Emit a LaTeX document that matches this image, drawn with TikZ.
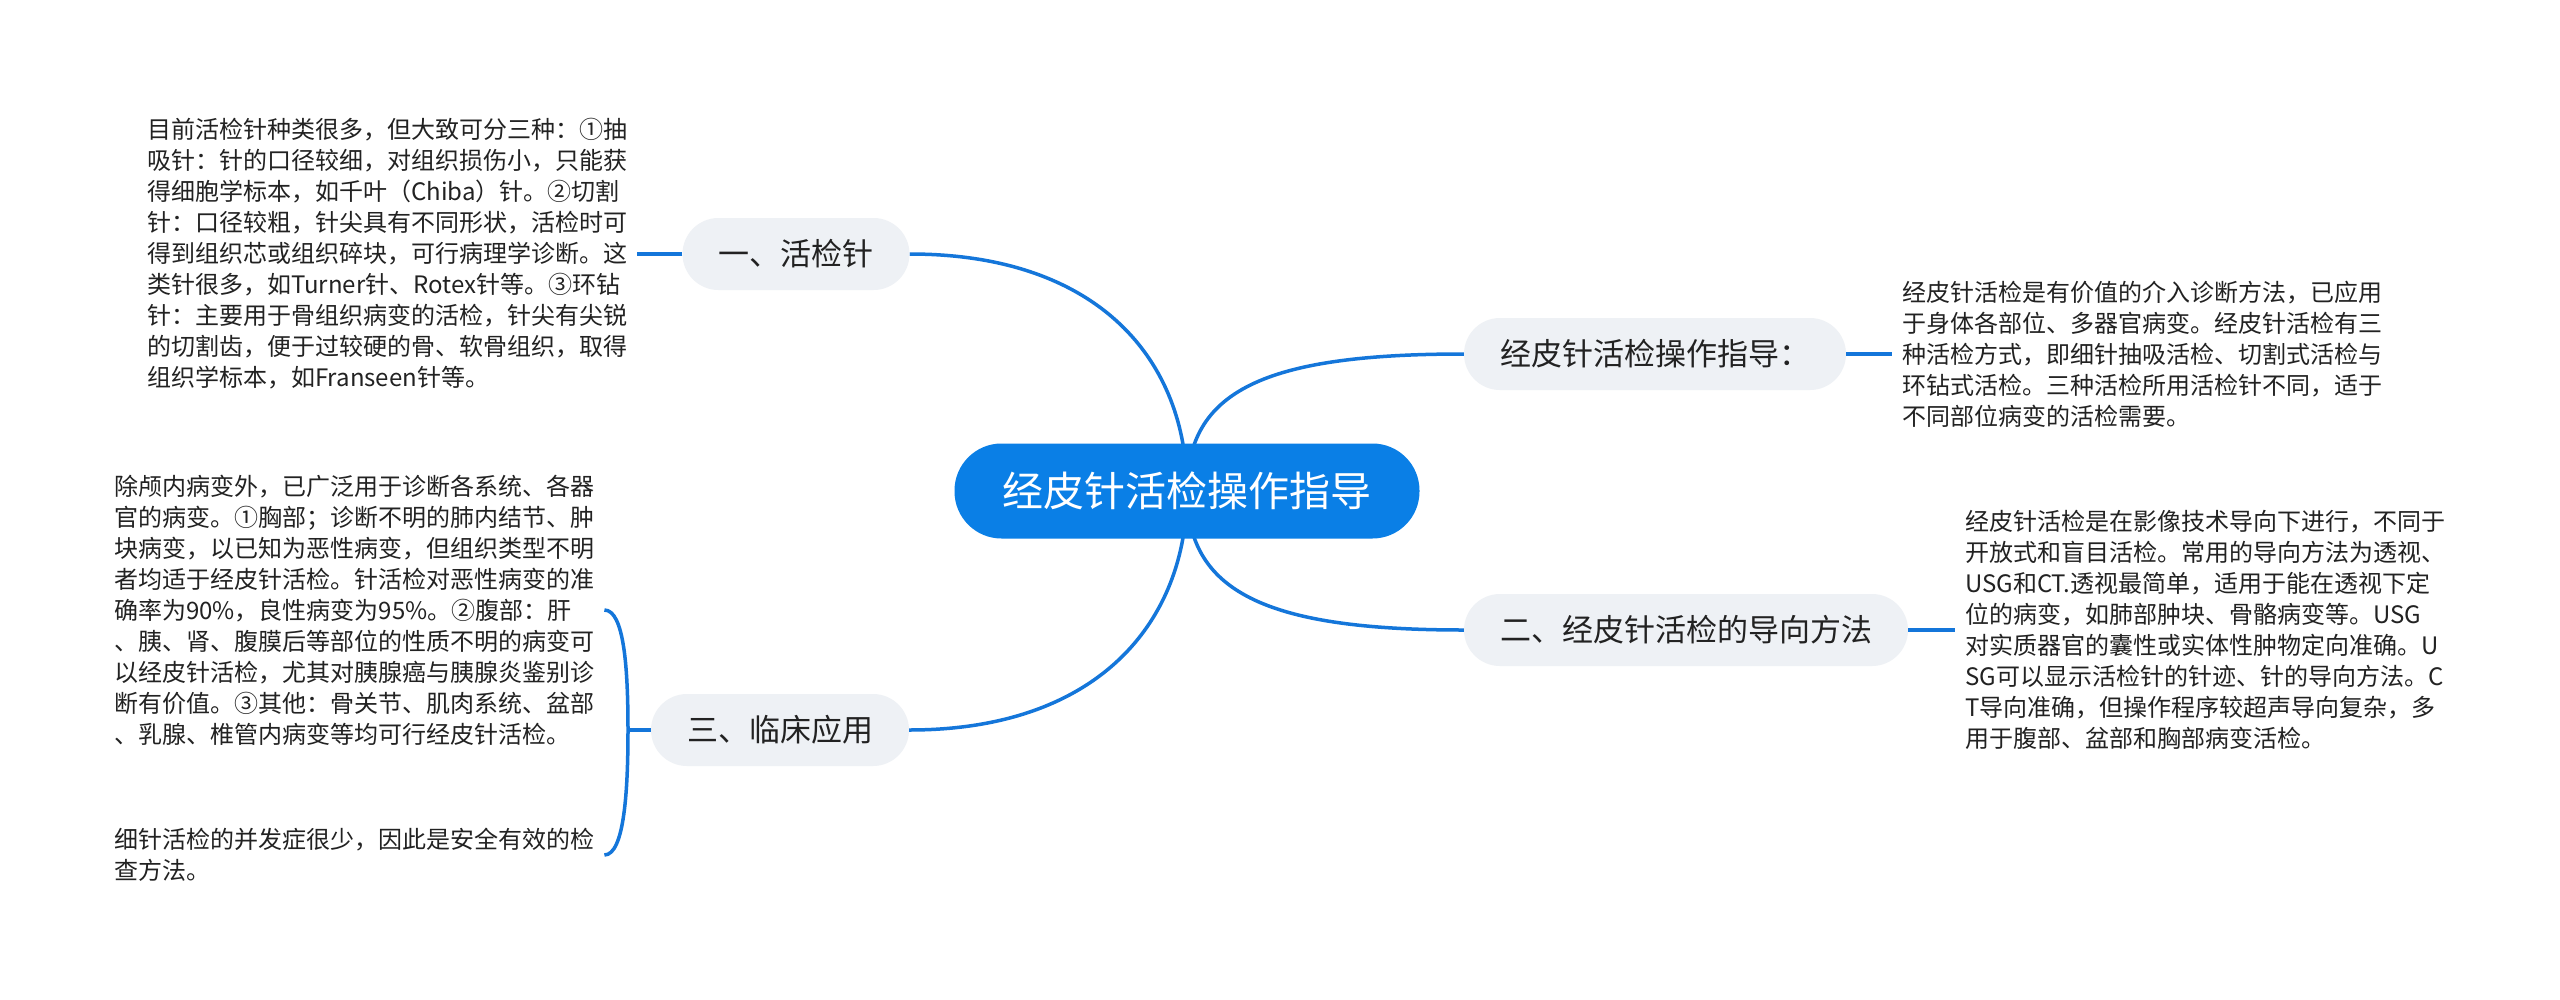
\documentclass[tikz,border=0pt]{standalone}
\usepackage{fontspec}
\setmainfont{Noto Sans CJK SC}
\usepackage{xcolor}
\usepackage{tikz}
\usetikzlibrary{backgrounds}
\definecolor{rootblue}{RGB}{10,127,230}
\definecolor{linkblue}{RGB}{20,118,218}
\definecolor{branchgray}{RGB}{238,241,245}
\definecolor{inkgray}{RGB}{34,34,34}

\begin{document}
\begin{tikzpicture}[x=1pt, y=-1pt,
    rootnode/.style={rounded corners=47pt, fill=rootblue, text=white, minimum height=95pt, inner xsep=48pt, inner ysep=0pt, font=\fontsize{41}{46}\selectfont},
    branch/.style={rounded corners=36pt, fill=branchgray, text=inkgray, minimum height=72pt, inner xsep=36pt, inner ysep=0pt, font=\fontsize{31}{36}\selectfont},
    desc/.style={align=left, inner xsep=10pt, inner ysep=0pt, text=inkgray, font=\fontsize{24}{31}\selectfont},
    link/.style={linkblue, line width=3.5pt}]
    \path[use as bounding box] (0,0) rectangle (2560,999);

    % 中心主题
    \node[rootnode] (root) at (1187,491) {经皮针活检操作指导};

    % 分支
    \node[branch] (zhen) at (796,254) {一、活检针};
    \node[branch] (zhidao) at (1655,354) {经皮针活检操作指导：};
    \node[branch] (daoxiang) at (1686,630) {二、经皮针活检的导向方法};
    \node[branch] (linchuang) at (780,730) {三、临床应用};

    % 说明文字
    \node[desc, anchor=west] (zhenText) at (137,254) {目前活检针种类很多，但大致可分三种：①抽\\
        吸针：针的口径较细，对组织损伤小，只能获\\
        得细胞学标本，如千叶（Chiba）针。②切割\\
        针：口径较粗，针尖具有不同形状，活检时可\\
        得到组织芯或组织碎块，可行病理学诊断。这\\
        类针很多，如Turner针、Rotex针等。③环钻\\
        针：主要用于骨组织病变的活检，针尖有尖锐\\
        的切割齿，便于过较硬的骨、软骨组织，取得\\
        组织学标本，如Franseen针等。};
    \node[desc, anchor=west] (zhidaoText) at (1892,354) {经皮针活检是有价值的介入诊断方法，已应用\\
        于身体各部位、多器官病变。经皮针活检有三\\
        种活检方式，即细针抽吸活检、切割式活检与\\
        环钻式活检。三种活检所用活检针不同，适于\\
        不同部位病变的活检需要。};
    \node[desc, anchor=west] (daoxiangText) at (1955,630) {经皮针活检是在影像技术导向下进行，不同于\\
        开放式和盲目活检。常用的导向方法为透视、\\
        USG和CT.透视最简单，适用于能在透视下定\\
        位的病变，如肺部肿块、骨骼病变等。USG\\
        对实质器官的囊性或实体性肿物定向准确。U\\
        SG可以显示活检针的针迹、针的导向方法。C\\
        T导向准确，但操作程序较超声导向复杂，多\\
        用于腹部、盆部和胸部病变活检。};
    \node[desc, anchor=west] (yingyongText) at (104,610) {除颅内病变外，已广泛用于诊断各系统、各器\\
        官的病变。①胸部；诊断不明的肺内结节、肿\\
        块病变，以已知为恶性病变，但组织类型不明\\
        者均适于经皮针活检。针活检对恶性病变的准\\
        确率为90\%，良性病变为95\%。②腹部：肝\\
        、胰、肾、腹膜后等部位的性质不明的病变可\\
        以经皮针活检，尤其对胰腺癌与胰腺炎鉴别诊\\
        断有价值。③其他：骨关节、肌肉系统、盆部\\
        、乳腺、椎管内病变等均可行经皮针活检。};
    \node[desc, anchor=west] (bingfaText) at (104,855) {细针活检的并发症很少，因此是安全有效的检\\
        查方法。};
    \coordinate (brace) at (628,730);

    % 连线
    \begin{scope}[on background layer]
        \fill[white] (0,0) rectangle (2560,999);
        \draw[link] (root.center) .. controls +(0,-130) and +(190,0) .. (zhen.east);
        \draw[link] (root.center) .. controls +(0,130) and +(190,0) .. (linchuang.east);
        \draw[link] (root.center) .. controls +(0,-100) and +(-200,0) .. (zhidao.west);
        \draw[link] (root.center) .. controls +(0,100) and +(-200,0) .. (daoxiang.west);
    \end{scope}
    \draw[link] (zhen.west) -- (zhenText.east);
    \draw[link] (zhidao.east) -- (zhidaoText.west);
    \draw[link] (daoxiang.east) -- (daoxiangText.west);
    \draw[link] (linchuang.west) -- (brace);
    \draw[link] (yingyongText.east) .. controls +(20,0) and +(0,-60) .. (brace)
        .. controls +(0,60) and +(20,0) .. (bingfaText.east);
\end{tikzpicture}
\end{document}
